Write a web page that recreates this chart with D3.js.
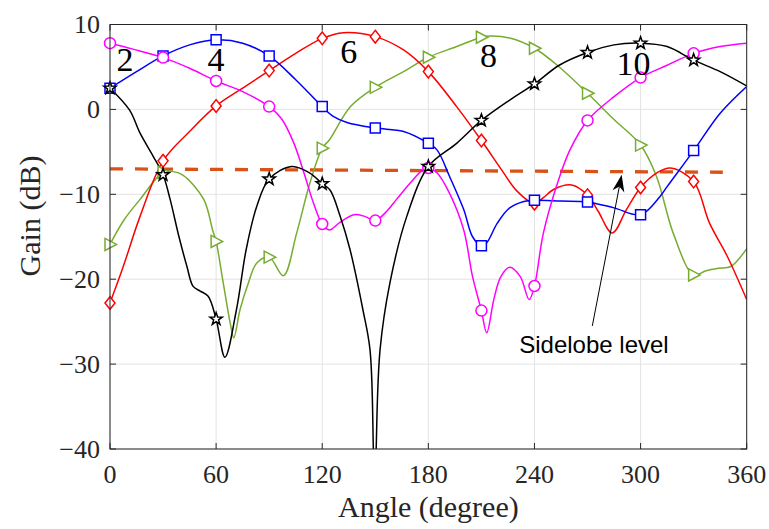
<!DOCTYPE html>
<html>
<head>
<meta charset="utf-8">
<script src="https://cdn.jsdelivr.net/npm/d3@7"></script>
<style>
  html, body { margin: 0; padding: 0; background: #fff; }
  svg { display: block; }
</style>
</head>
<body>
<div id="chart"></div>
<script>
// Gain patterns, one pair of arrays per curve
const angles2 = [0, 13, 30, 45, 60, 75, 90, 97, 104, 110, 115, 120, 124, 130, 138, 144, 150, 156, 162, 170, 177, 180, 185, 192, 200, 205, 210, 213, 217, 221, 226, 232, 237, 240, 245, 253, 260, 270, 285, 300, 315, 330, 345, 360];
const gain2 = [7.8, 7.1, 6.1, 4.85, 3.35, 2.1, 0.33, -1.1, -4.0, -7.7, -11.0, -13.5, -14.2, -13.3, -12.4, -12.6, -13.1, -12.1, -10.6, -8.6, -7.1, -6.9, -7.5, -9.9, -14.2, -19.7, -23.7, -26.3, -22.4, -19.7, -18.6, -19.7, -22.4, -20.8, -14.6, -8.7, -4.8, -1.3, 1.5, 3.75, 5.2, 6.6, 7.4, 7.8];

const angles4 = [0, 15, 30, 45, 60, 75, 90, 105, 120, 126, 134, 150, 166, 180, 185, 192, 200, 205, 210, 213, 219, 226, 234, 240, 255, 270, 285, 300, 311, 315, 330, 345, 360];
const gain4 = [2.5, 4.45, 6.3, 7.6, 8.2, 7.8, 6.3, 3.5, 0.33, -0.8, -1.55, -2.2, -2.6, -4.0, -4.8, -7.9, -11.8, -15.0, -16.06, -15.7, -13.4, -11.6, -10.85, -10.7, -10.8, -10.9, -11.6, -12.4, -10.25, -9.1, -4.85, -0.45, 2.7];

const angles6 = [0, 7.5, 17, 30, 45, 60, 75, 90, 105, 120, 132, 150, 166, 180, 196, 210, 222, 230, 240, 245, 251, 261, 270, 276, 284, 292, 300, 309, 317, 330, 339, 349, 360];
const gain6 = [-22.8, -18.5, -12.6, -6.06, -2.6, 0.41, 2.5, 4.57, 6.6, 8.37, 9.04, 8.57, 7.0, 4.45, 0.33, -3.67, -7.3, -9.6, -11.1, -10.4, -9.4, -8.9, -10.1, -12.0, -14.56, -11.8, -9.2, -7.5, -6.9, -8.5, -13.4, -17.3, -22.4];

const angles8 = [0, 8, 17, 30, 35, 41, 53, 58, 60, 64, 68, 70, 73.5, 78, 83, 90, 98, 105.5, 113, 120, 124, 136, 150, 166, 180, 196, 210, 215, 226, 240, 254, 270, 285, 300, 309, 318.5, 330, 337, 344, 351, 360];
const gain8 = [-15.9, -13.0, -10.6, -7.4, -7.3, -7.7, -10.6, -14.2, -15.55, -20.4, -25.2, -26.9, -23.6, -20.6, -18.1, -17.4, -19.6, -14.6, -8.7, -4.57, -3.6, 0.33, 2.6, 4.45, 6.14, 7.4, 8.5, 8.65, 8.4, 7.2, 5.0, 1.9, -1.2, -4.2, -7.9, -14.6, -19.5, -19.0, -18.7, -18.5, -16.4];

const angles10 = [0, 11, 17, 24.5, 30, 34, 39, 43.5, 47, 51, 55.5, 60, 65, 71.5, 77, 83, 90, 102.7, 113, 120, 124.4, 130, 135.7, 143, 147, 148.9, 149.7, 150.5, 152.7, 158.3, 167.8, 180, 196, 210, 226, 240, 254, 270, 285, 300, 315, 330, 345, 360];
const gain10 = [2.5, -0.06, -2.8, -5.55, -7.7, -10.6, -15.0, -18.5, -20.85, -21.4, -22.0, -24.7, -29.2, -23.6, -16.5, -11.4, -8.2, -6.73, -7.5, -8.76, -9.5, -12.5, -16.5, -23.6, -28.3, -40, -50, -40, -28.3, -20.4, -12.6, -6.73, -4.0, -1.3, 1.1, 3.0, 5.2, 6.7, 7.6, 7.8, 7.4, 5.8, 4.45, 2.76];

// Sidelobe reference line
const sideAngles = [0, 346.5];
const sideGains = [-7.0, -7.4];

// Curve labels inside the plot
const curveLabels = ['2', '4', '6', '8', '10'];
const labelAngles = [8.5, 60, 135, 214, 296];
const labelGains = [4.5, 4.5, 5.5, 5.0, 4.1];

const xTicks = [0, 60, 120, 180, 240, 300, 360];
const yTicks = [-40, -30, -20, -10, 0, 10];

// Annotation arrow (tail, tip) in data units
const arrowAngles = [272.7, 289.3];
const arrowGains = [-25.5, -7.7];

const W = 769, H = 529;
const margin = { top: 24.5, right: 22.3, bottom: 80, left: 110 };

const svg = d3.select('#chart').append('svg')
  .attr('width', W)
  .attr('height', H);

const x = d3.scaleLinear().domain([0, 360]).range([margin.left, W - margin.right]);
const y = d3.scaleLinear().domain([-40, 10]).range([H - margin.bottom, margin.top]);

const serif = '"Liberation Serif", "Times New Roman", serif';
const axisColor = '#262626';

svg.append('defs').append('clipPath').attr('id', 'plot-clip')
  .append('rect')
  .attr('x', x(0)).attr('y', y(10))
  .attr('width', x(360) - x(0)).attr('height', y(-40) - y(10));

// Grid
const grid = svg.append('g');
grid.selectAll('.gx').data(xTicks).enter().append('line')
  .attr('x1', d => x(d)).attr('x2', d => x(d))
  .attr('y1', y(-40)).attr('y2', y(10))
  .style('stroke', '#e3e3e3').style('stroke-width', 1);
grid.selectAll('.gy').data(yTicks).enter().append('line')
  .attr('x1', x(0)).attr('x2', x(360))
  .attr('y1', d => y(d)).attr('y2', d => y(d))
  .style('stroke', '#e3e3e3').style('stroke-width', 1);

const plot = svg.append('g').attr('clip-path', 'url(#plot-clip)');

// Sidelobe level dashed line
plot.append('path')
  .datum(sideAngles.map((a, i) => [a, sideGains[i]]))
  .attr('d', d3.line().x(d => x(d[0])).y(d => y(d[1])))
  .style('fill', 'none')
  .style('stroke', '#d95319')
  .style('stroke-width', 3.3)
  .style('stroke-dasharray', '13,12');

const series = [
  { angles: angles8, gains: gain8, color: '#77ac30', marker: 'tri' },
  { angles: angles6, gains: gain6, color: '#ff0000', marker: 'diamond' },
  { angles: angles4, gains: gain4, color: '#0000ff', marker: 'square' },
  { angles: angles2, gains: gain2, color: '#ff00ff', marker: 'circle' },
  { angles: angles10, gains: gain10, color: '#000000', marker: 'star' }
];

function markerPath(type) {
  if (type === 'circle') return d3.symbol(d3.symbolCircle, Math.PI * 5.5 * 5.5)();
  if (type === 'square') return 'M-5,-5H5V5H-5Z';
  if (type === 'diamond') return 'M0,-6.3L5,0L0,6.3L-5,0Z';
  if (type === 'tri') return 'M-5,-6L6.5,0L-5,6Z';
  // five-point star
  const pts = [];
  for (let k = 0; k < 10; k++) {
    const r = k % 2 === 0 ? 6.5 : 2.6;
    const ang = -Math.PI / 2 + k * Math.PI / 5;
    pts.push([r * Math.cos(ang), r * Math.sin(ang)]);
  }
  return 'M' + pts.map(p => p[0].toFixed(2) + ',' + p[1].toFixed(2)).join('L') + 'Z';
}

const line = d3.line()
  .x(d => x(d[0]))
  .y(d => y(d[1]))
  .curve(d3.curveCatmullRom.alpha(0.5));

series.forEach(s => {
  const pts = s.angles.map((a, i) => [a, s.gains[i]]);
  plot.append('path')
    .datum(pts)
    .attr('d', line)
    .style('fill', 'none')
    .style('stroke', s.color)
    .style('stroke-width', 1.5);

  const marks = pts.filter(p => p[0] % 30 === 0 && p[0] < 360);
  svg.append('g').selectAll('path').data(marks).enter().append('path')
    .attr('transform', d => `translate(${x(d[0])},${y(d[1])})`)
    .attr('d', markerPath(s.marker))
    .style('fill', '#fff')
    .style('stroke', s.color)
    .style('stroke-width', 1.5);
});

// Axes box with inward ticks
const box = svg.append('g');
box.append('rect')
  .attr('x', x(0)).attr('y', y(10))
  .attr('width', x(360) - x(0)).attr('height', y(-40) - y(10))
  .style('fill', 'none').style('stroke', axisColor).style('stroke-width', 1);
xTicks.forEach(t => {
  box.append('line').attr('x1', x(t)).attr('x2', x(t)).attr('y1', y(-40)).attr('y2', y(-40) - 6)
    .style('stroke', axisColor);
  box.append('line').attr('x1', x(t)).attr('x2', x(t)).attr('y1', y(10)).attr('y2', y(10) + 6)
    .style('stroke', axisColor);
});
yTicks.forEach(t => {
  box.append('line').attr('x1', x(0)).attr('x2', x(0) + 6).attr('y1', y(t)).attr('y2', y(t))
    .style('stroke', axisColor);
  box.append('line').attr('x1', x(360)).attr('x2', x(360) - 6).attr('y1', y(t)).attr('y2', y(t))
    .style('stroke', axisColor);
});

// Tick labels
const fmt = d3.format('d');
svg.append('g').selectAll('text').data(xTicks).enter().append('text')
  .attr('x', d => x(d)).attr('y', 483)
  .attr('text-anchor', 'middle')
  .style('font-family', serif).style('font-size', '26px').style('fill', axisColor)
  .text(d => fmt(d));
svg.append('g').selectAll('text').data(yTicks).enter().append('text')
  .attr('x', 100).attr('y', d => y(d)).attr('dy', '0.33em')
  .attr('text-anchor', 'end')
  .style('font-family', serif).style('font-size', '26px').style('fill', axisColor)
  .text(d => fmt(d));

// Axis titles
svg.append('text')
  .attr('x', (x(0) + x(360)) / 2).attr('y', 517)
  .attr('text-anchor', 'middle')
  .style('font-family', serif).style('font-size', '30px').style('fill', axisColor)
  .text('Angle (degree)');
svg.append('text')
  .attr('transform', 'translate(40,216) rotate(-90)')
  .attr('text-anchor', 'middle')
  .style('font-family', serif).style('font-size', '30px').style('fill', axisColor)
  .text('Gain (dB)');

// Curve labels
svg.append('g').selectAll('text').data(curveLabels).enter().append('text')
  .attr('x', (d, i) => x(labelAngles[i]))
  .attr('y', (d, i) => y(labelGains[i]))
  .attr('text-anchor', 'middle')
  .style('font-family', serif).style('font-size', '34px').style('fill', '#000')
  .text(d => d);

// Sidelobe annotation arrow
const tail = [x(arrowAngles[0]), y(arrowGains[0])];
const tip = [x(arrowAngles[1]), y(arrowGains[1])];
const dx = tip[0] - tail[0], dy = tip[1] - tail[1];
const len = Math.hypot(dx, dy);
const ux = dx / len, uy = dy / len;
const px = -uy, py = ux;
const headLen = 17, headHalf = 6, notch = 12;
svg.append('line')
  .attr('x1', tail[0]).attr('y1', tail[1])
  .attr('x2', tip[0] - ux * notch).attr('y2', tip[1] - uy * notch)
  .style('stroke', '#000').style('stroke-width', 1);
svg.append('path')
  .attr('d', `M${tip[0]},${tip[1]}` +
    `L${tip[0] - ux * headLen + px * headHalf},${tip[1] - uy * headLen + py * headHalf}` +
    `L${tip[0] - ux * notch},${tip[1] - uy * notch}` +
    `L${tip[0] - ux * headLen - px * headHalf},${tip[1] - uy * headLen - py * headHalf}Z`)
  .style('fill', '#000');

svg.append('text')
  .attr('x', x(231.4)).attr('y', y(-28.65))
  .style('font-family', '"Liberation Sans", Arial, sans-serif')
  .style('font-size', '24px').style('fill', '#000')
  .text('Sidelobe level');
</script>
</body>
</html>
